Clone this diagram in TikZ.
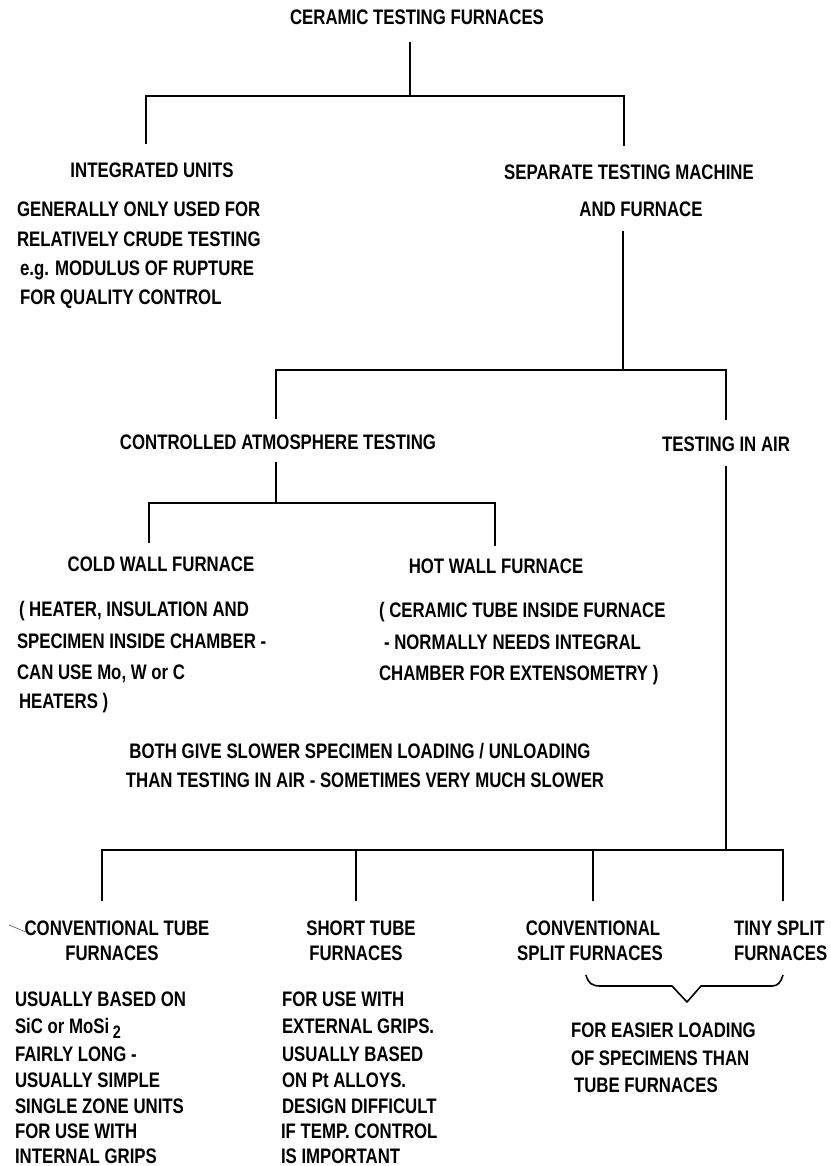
\documentclass[tikz,border=0pt]{standalone}
\usepackage{fontspec}
\newfontfamily\plotfont{Liberation Sans}[FakeStretch=0.80]
\newcommand\pf{\plotfont\bfseries\fontsize{21}{24}\selectfont}
\tikzset{
  lt/.style={inner sep=0pt, outer sep=0pt, anchor=base west, font=\pf},
  ct/.style={inner sep=0pt, outer sep=0pt, anchor=base, font=\pf},
  conn/.style={line width=2pt, line cap=rect},
  bracestroke/.style={line width=1.6pt, line join=round},
}
\begin{document}
\begin{tikzpicture}[x=1pt,y=-1pt]
\useasboundingbox[fill=white] (0,0) rectangle (830,1166);

% ---------- headings ----------
\node[ct] (title) at (417,25) {CERAMIC TESTING FURNACES};
\node[ct] (integ) at (152,178) {INTEGRATED UNITS};
\node[ct] (sep1) at (629,180) {SEPARATE TESTING MACHINE};
\node[ct] (sep2) at (641,217) {AND FURNACE};
\node[lt] (ia) at (17,217) {GENERALLY ONLY USED FOR};
\node[lt] (ib) at (17,247) {RELATIVELY CRUDE TESTING};
\node[lt] (ic) at (20,275) {e.g. MODULUS OF RUPTURE};
\node[lt] (id) at (20,304) {FOR QUALITY CONTROL};

\node[ct] (cat) at (278,449) {CONTROLLED ATMOSPHERE TESTING};
\node[ct] (tia) at (726,451) {TESTING IN AIR};

\node[ct] (cold) at (161,571) {COLD WALL FURNACE};
\node[ct] (hot) at (496,573) {HOT WALL FURNACE};
\node[lt] (ca) at (19,616) {( HEATER, INSULATION AND};
\node[lt] (cb) at (17,648) {SPECIMEN INSIDE CHAMBER -};
\node[lt] (cc) at (17,679) {CAN USE Mo, W or C};
\node[lt] (cd) at (19,708) {HEATERS )};
\node[lt] (ha) at (379,617) {( CERAMIC TUBE INSIDE FURNACE};
\node[lt] (hb) at (384,649) {- NORMALLY NEEDS INTEGRAL};
\node[lt] (hc) at (379,680) {CHAMBER FOR EXTENSOMETRY )};

\node[ct] (both1) at (360,758) {BOTH GIVE SLOWER SPECIMEN LOADING / UNLOADING};
\node[ct] (both2) at (365,787) {THAN TESTING IN AIR - SOMETIMES VERY MUCH SLOWER};

% ---------- bottom row ----------
\node[ct] (ct1) at (117,935) {CONVENTIONAL TUBE};
\node[ct] (ct2) at (112,960) {FURNACES};
\node[ct] (st1) at (361,935) {SHORT TUBE};
\node[ct] (st2) at (356,960) {FURNACES};
\node[ct] (cs1) at (593,935) {CONVENTIONAL};
\node[ct] (cs2) at (590,960) {SPLIT FURNACES};
\node[lt] (ts1) at (734,935) {TINY SPLIT};
\node[lt] (ts2) at (734,960) {FURNACES};

\node[lt] (la) at (15,1006) {USUALLY BASED ON};
\node[lt] (lb) at (15,1033) {SiC or MoSi\,\raisebox{-5pt}{\fontsize{18}{18}\selectfont 2}};
\node[lt] (lc) at (15,1061) {FAIRLY LONG -};
\node[lt] (ld) at (15,1087) {USUALLY SIMPLE};
\node[lt] (le) at (15,1113) {SINGLE ZONE UNITS};
\node[lt] (lf) at (15,1138) {FOR USE WITH};
\node[lt] (lg) at (15,1163) {INTERNAL GRIPS};

\node[lt] (ma) at (282,1006) {FOR USE WITH};
\node[lt] (mb) at (282,1033) {EXTERNAL GRIPS.};
\node[lt] (mc) at (282,1061) {USUALLY BASED};
\node[lt] (md) at (282,1087) {ON Pt ALLOYS.};
\node[lt] (me) at (282,1113) {DESIGN DIFFICULT};
\node[lt] (mf) at (281,1138) {IF TEMP. CONTROL};
\node[lt] (mg) at (281,1163) {IS IMPORTANT};

\node[lt] (ra) at (571,1037) {FOR EASIER LOADING};
\node[lt] (rb) at (571,1065) {OF SPECIMENS THAN};
\node[lt] (rc) at (574,1092) {TUBE FURNACES};

% ---------- connector points ----------
\path (410,43) coordinate (r0) (410,96) coordinate (r1)
      (146,96) coordinate (r1l) (624,96) coordinate (r1r)
      (146,143) coordinate (r1ld) (624,145) coordinate (r1rd);
\path (623,232) coordinate (s0) (623,370) coordinate (s1)
      (276,370) coordinate (s1l) (726,370) coordinate (s1r)
      (276,418) coordinate (s1ld) (726,419) coordinate (s1rd);
\path (276,463) coordinate (c0) (276,503) coordinate (c1)
      (149,503) coordinate (c1l) (495,503) coordinate (c1r)
      (149,542) coordinate (c1ld) (495,545) coordinate (c1rd);
\path (726,467) coordinate (a0) (726,850) coordinate (a1)
      (102,850) coordinate (a1l) (783,850) coordinate (a1r)
      (356,850) coordinate (a1m) (593,850) coordinate (a1n)
      (102,900) coordinate (d1) (356,900) coordinate (d2)
      (593,900) coordinate (d3) (783,900) coordinate (d4);

\draw[conn] (r0) -- (r1);
\draw[conn] (r1ld) -- (r1l) -- (r1r) -- (r1rd);
\draw[conn] (s0) -- (s1);
\draw[conn] (s1ld) -- (s1l) -- (s1r) -- (s1rd);
\draw[conn] (c0) -- (c1);
\draw[conn] (c1ld) -- (c1l) -- (c1r) -- (c1rd);
\draw[conn] (a0) -- (a1);
\draw[conn] (d1) -- (a1l) -- (a1r) -- (d4);
\draw[conn] (a1m) -- (d2);
\draw[conn] (a1n) -- (d3);

% ---------- brace ----------
\path (586,975) coordinate (bl) (687,1002) coordinate (bt) (783,975) coordinate (br);
\draw[bracestroke] (bl) .. controls (588,983) and (592,986) .. (600,986)
   -- (672,986) -- (bt) -- (701,986) -- (772,986)
   .. controls (778,986) and (781,982) .. (br);

% stray mark
\draw[line width=0.7pt, black!60] (9,925) -- (26,932);
\end{tikzpicture}
\end{document}
